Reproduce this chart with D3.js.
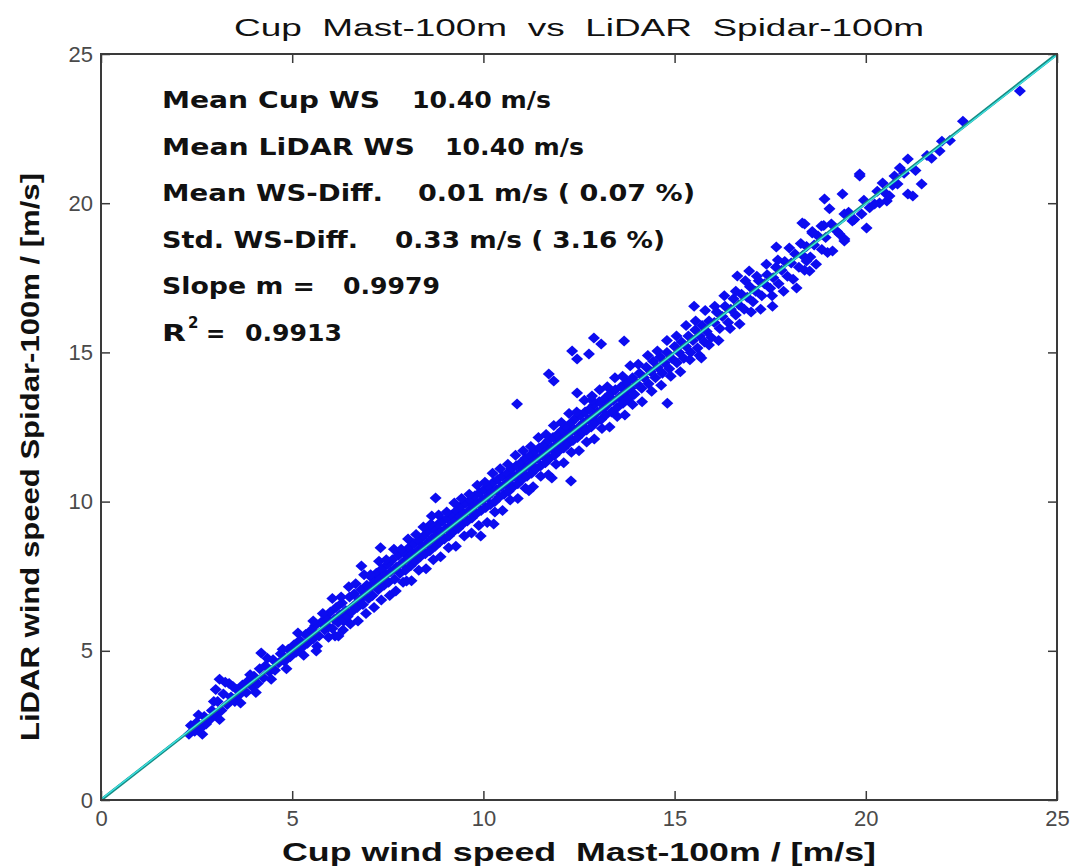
<!DOCTYPE html>
<html>
<head>
<meta charset="utf-8">
<script src="https://cdn.jsdelivr.net/npm/d3@7"></script>
<style>
  body { margin: 0; background: #fff; }
  text { white-space: pre; }
</style>
</head>
<body>
<script>
const chartTitle = 'Cup  Mast-100m  vs  LiDAR  Spidar-100m'
const xLabel = 'Cup wind speed  Mast-100m / [m/s]'
const yLabel = 'LiDAR wind speed Spidar-100m / [m/s]'
const tickValues = [0, 5, 10, 15, 20, 25]

const statLabels = ['Mean Cup WS', 'Mean LiDAR WS', 'Mean WS-Diff.', 'Std. WS-Diff.', 'Slope m =', 'R']
const statValues = ['10.40 m/s', '10.40 m/s', '0.01 m/s ( 0.07 %)', '0.33 m/s ( 3.16 %)', '0.9979', '0.9913']
const fitSlope = 0.9979
const fitOffset = 0.022

// [cup, lidar] pairs of the main cloud, read along the diagonal
const bandPoints = [
  [2.3,2.2],[2.35,2.5],[2.45,2.3],[2.5,2.6],[2.6,2.4],[2.7,2.8],[2.75,2.55],[2.85,2.7],[2.9,3.0],[3.0,2.85],
  [3.05,3.3],[3.15,3.0],[3.2,3.55],[3.3,3.2],[3.35,3.9],[3.4,3.45],[3.5,3.3],[3.55,3.7],[3.6,3.5],[3.7,3.85],
  [3.8,3.6],[3.85,4.0],[3.95,3.8],[4.0,4.15],[4.1,3.9],[4.15,4.4],[4.25,4.1],[4.3,4.5],[4.4,4.3],[4.5,4.7],
  [4.55,4.35],[4.65,4.6],[4.7,4.9],[4.8,4.65],[4.9,5.05],[4.95,4.8],[5.05,5.2],[5.1,4.95],[5.2,5.35],[5.25,5.1],
  [5.35,5.55],[5.4,5.25],[5.5,5.7],[5.55,5.4],[5.6,5.85],[5.7,5.5],[5.75,5.95],[5.85,5.7],[5.9,6.1],[5.95,5.8],
  [6.0,6.3],[6.05,5.75],[6.1,6.05],[6.15,6.45],[6.2,5.95],[6.25,6.2],[6.3,6.6],[6.35,6.0],[6.4,6.35],[6.45,6.15],
  [6.5,6.8],[6.55,6.3],[6.6,6.5],[6.62,6.9],[6.7,6.45],[6.75,6.7],[6.8,7.05],[6.85,6.55],[6.9,6.85],[6.95,7.2],
  [7.0,6.75],[7.02,7.1],[7.08,7.45],[7.1,6.85],[7.15,7.3],[7.2,7.6],[7.25,7.05],[7.3,7.4],[7.35,7.75],[7.4,7.2],
  [7.45,7.55],[7.5,7.9],[7.52,7.3],[7.58,7.65],[7.62,8.05],[7.68,7.4],[7.72,7.8],[7.78,8.2],[7.82,7.6],[7.88,7.95],
  [7.92,8.3],[7.96,7.7],[8.02,8.1],[8.05,8.45],[8.1,7.85],[8.14,8.25],[8.18,8.6],[8.22,8.0],[8.27,8.35],[8.3,8.7],
  [8.35,8.15],[8.4,8.5],[8.44,8.85],[8.48,8.25],[8.52,8.6],[8.56,9.0],[8.6,8.35],[8.65,8.75],[8.7,9.1],[8.74,8.5],
  [8.78,8.9],[8.82,9.25],[8.86,8.65],[8.9,9.0],[8.94,9.35],[8.98,8.75],[9.02,9.1],[9.06,9.45],[9.1,8.85],[9.14,9.2],
  [9.18,9.55],[9.22,9.0],[9.26,9.35],[9.3,9.7],[9.34,9.1],[9.38,9.5],[9.42,9.85],[9.46,9.25],[9.5,9.6],[9.54,9.95],
  [9.58,9.35],[9.62,9.7],[9.66,10.05],[9.7,9.45],[9.74,9.85],[9.78,10.2],[9.82,9.6],[9.86,9.95],[9.9,10.3],[9.94,9.7],
  [9.98,10.05],[10.02,10.4],[10.06,9.8],[10.1,10.15],[10.14,10.5],[10.18,9.9],[10.22,10.3],[10.26,10.65],[10.3,10.0],[10.34,10.4],
  [10.38,10.75],[10.42,10.15],[10.46,10.5],[10.5,10.85],[10.54,10.25],[10.58,10.6],[10.62,10.95],[10.66,10.35],[10.7,10.75],[10.74,11.1],
  [10.78,10.5],[10.82,10.85],[10.86,11.2],[10.9,10.6],[10.94,10.95],[10.98,11.3],[11.02,10.75],[11.06,11.1],[11.1,11.45],[11.14,10.85],
  [11.18,11.2],[11.22,11.55],[11.26,10.95],[11.3,11.35],[11.34,11.7],[11.38,11.1],[11.42,11.45],[11.46,11.8],[11.5,11.2],[11.54,11.55],
  [11.58,11.9],[11.62,11.3],[11.66,11.7],[11.7,12.05],[11.74,11.45],[11.78,11.8],[11.82,12.15],[11.86,11.55],[11.9,11.9],[11.94,12.25],
  [11.98,11.7],[12.02,12.05],[12.06,12.4],[12.1,11.8],[12.14,12.15],[12.18,12.5],[12.22,11.95],[12.26,12.3],[12.3,12.65],[12.34,12.05],
  [12.38,12.4],[12.42,12.8],[12.46,12.15],[12.5,12.5],[12.54,12.9],[12.58,12.3],[12.62,12.65],[12.66,13.0],[12.7,12.4],[12.74,12.75],
  [12.78,13.1],[12.82,12.5],[12.86,12.85],[12.9,13.25],[12.94,12.65],[12.98,13.0],[13.03,13.35],[13.08,12.75],[13.12,13.1],[13.17,13.45],
  [13.2,12.9],[13.25,13.25],[13.3,13.6],[13.35,13.0],[13.4,13.4],[13.45,13.75],[13.5,13.15],[13.55,13.5],[13.6,13.85],[13.65,13.3],
  [13.7,13.65],[13.75,14.0],[13.8,13.45],[13.85,13.8],[13.9,14.15],[13.95,13.6],[14.02,13.95],[14.08,14.3],[14.14,13.8],[14.2,14.15],
  [14.26,14.5],[14.32,13.95],[14.38,14.35],[14.44,14.7],[14.5,14.15],[14.56,14.5],[14.62,14.85],[14.68,14.3],[14.74,14.65],[14.8,15.0],
  [14.86,14.45],[14.92,14.8],[15.0,15.2],[15.06,14.65],[15.12,15.0],[15.18,15.35],[15.24,14.8],[15.3,15.2],[15.36,15.55],[15.42,15.0],
  [15.48,15.4],[15.54,15.75],[15.6,15.15],[15.66,15.55],[15.72,15.9],[15.78,15.35],[15.84,15.7],[15.9,16.05],[15.96,15.5],[16.04,16.0],
  [16.1,16.35],[16.18,15.8],[16.25,16.2],[16.32,16.55],[16.4,16.0],[16.47,16.45],[16.54,16.8],[16.6,16.25],[16.68,16.6],[16.75,16.95],
  [16.82,16.45],[16.9,16.85],[16.97,17.2],[17.05,16.7],[17.12,17.05],[17.2,17.4],[17.28,16.9],[17.35,17.3],[17.42,17.6],[17.5,17.15],
  [17.58,17.5],[17.65,17.85],[17.72,17.3],[17.8,17.75],[17.88,18.05],[17.95,17.55],[18.05,18.0],[18.15,18.3],[18.25,17.85],[18.35,18.25],
  [18.45,18.55],[18.55,18.2],[18.65,18.6],[18.75,18.9],[18.85,18.45],[18.95,18.85],[19.1,19.3],[19.25,19.05],[19.55,19.7],[19.7,19.45],
  [19.95,20.1],[20.1,19.85],[20.3,20.4],[20.5,20.35],[20.7,20.6],[21.0,21.0],[21.3,21.1],[21.6,21.6],[22.2,22.1]
]

// rough upper and lower edges of the cloud
const bandEdgePoints = [
  [2.55,2.85],[2.65,2.2],[2.95,3.3],[3.1,2.7],[3.45,3.8],[3.65,3.25],[3.9,4.2],[4.05,3.6],[4.35,4.75],[4.45,4.05],
  [4.75,5.05],[4.85,4.4],[5.15,5.6],[5.3,4.85],[5.55,6.0],[5.65,5.15],[5.8,6.25],[5.95,5.45],
  [6.05,6.75],[6.12,5.5],[6.28,6.8],[6.33,5.7],[6.48,7.15],[6.52,5.9],[6.66,7.25],[6.72,6.0],[6.88,7.55],[6.93,6.25],
  [7.05,7.55],[7.14,6.45],[7.27,8.0],[7.33,6.7],[7.46,8.05],[7.55,6.85],[7.66,8.4],[7.71,7.0],[7.85,8.4],[7.9,7.3],
  [8.03,8.75],[8.12,7.35],[8.24,8.9],[8.31,7.7],[8.43,9.15],[8.5,7.75],[8.63,9.25],[8.69,8.05],[8.83,9.55],[8.88,8.15],
  [9.04,9.65],[9.09,8.45],[9.24,9.95],[9.28,8.5],[9.43,10.1],[9.5,8.85],[9.63,10.25],[9.69,8.95],[9.84,10.55],[9.88,9.2],
  [10.04,10.65],[10.1,9.3],[10.24,10.95],[10.3,9.65],[10.44,11.1],[10.5,9.7],[10.64,11.25],[10.7,10.05],[10.84,11.55],[10.9,10.1],
  [11.04,11.7],[11.1,10.45],[11.24,11.85],[11.3,10.5],[11.44,12.15],[11.5,10.85],[11.64,12.25],[11.7,10.9],[11.84,12.55],[11.9,11.25],
  [12.04,12.65],[12.1,11.3],[12.24,12.95],[12.3,11.65],[12.44,13.0],[12.5,11.7],[12.64,13.4],[12.7,12.0],[12.84,13.4],[12.9,12.1],
  [13.04,13.75],[13.1,12.45],[13.24,13.85],[13.3,12.5],[13.44,14.15],[13.5,12.85],[13.64,14.2],[13.7,12.9],[13.84,14.55],[13.9,13.25],
  [14.05,14.6],[14.15,13.35],[14.3,14.9],[14.4,13.7],[14.55,15.05],[14.65,13.9],[14.8,15.4],[14.9,14.2],[15.05,15.55],[15.15,14.35],
  [15.3,15.9],[15.4,14.75],[15.55,16.05],[15.65,14.9],[15.8,16.4],[15.9,15.25],[16.05,16.55],[16.15,15.4],[16.3,16.9],[16.45,15.8],
  [16.6,17.05],[16.7,15.95],[16.85,17.4],[17.0,16.35],[17.15,17.55],[17.25,16.45],[17.4,17.95],[17.55,16.9],[17.7,18.1],[17.85,17.05],
  [18.0,18.5],[18.1,17.45],[18.3,18.65],[18.4,17.75],[18.6,19.05],[18.7,17.95],[18.9,19.25],[19.0,18.35]
]

// scattered points away from the diagonal
const outlierPoints = [
  [3.1,4.05],[3.25,3.95],[3.0,3.7],[4.19,4.93],[5.63,4.99],[6.21,5.5],[6.81,7.84],[7.99,7.34],[7.31,8.45],[8.65,9.52],
  [8.75,10.12],[9.93,8.85],[10.27,9.25],[10.88,13.27],[11.19,10.36],[11.79,10.79],[12.29,10.69],[11.71,14.28],[11.84,14.04],[12.32,15.05],
  [12.45,14.78],[12.76,14.95],[12.89,15.48],[13.08,15.28],[13.68,15.38],[12.45,13.64],[12.84,13.54],[14.81,13.3],[15.51,16.55],[15.7,14.81],
  [16.64,17.56],[16.95,17.73],[17.66,18.53],[17.56,16.55],[18.19,17.16],[18.34,19.34],[18.92,20.14],[19.39,20.31],[19.05,19.81],[19.84,20.98],
  [19.44,18.73],[19.13,18.4],[20.02,19.17],[20.55,20.07],[24.03,23.76],[22.54,22.75],[21.99,22.08],[21.93,21.75],[21.72,21.51],[21.1,21.48],
  [20.89,21.18],[20.75,20.91],[20.44,20.68],[20.83,20.64],[21.46,20.64],[21.1,20.31],[21.23,20.24],[20.62,20.24],[20.36,20.01],[20.23,19.97],
  [19.44,19.64],[19.89,19.64],[19.65,19.4],[19.44,18.8],[18.4,19.3],[18.84,19.24],[18.6,19.0],[19.31,18.97],[18.45,18.06],[18.53,17.73],
  [19.84,20.91]
]

const width = 1074
const height = 867
const margin = { top: 54, right: 17, bottom: 67, left: 101 }

const svg = d3.select('body').append('svg')
  .attr('width', width)
  .attr('height', height)
  .attr('viewBox', [0, 0, width, height])
  .style('font-family', 'Liberation Sans, Arial, sans-serif')

const x = d3.scaleLinear().domain([0, 25]).range([margin.left, width - margin.right])
const y = d3.scaleLinear().domain([0, 25]).range([height - margin.bottom, margin.top])

const axisColor = '#3a3a3a'

// markers
const diamond = 'M0,-5.5L6,0L0,5.5L-6,0Z'
svg.append('g')
  .attr('fill', '#0c0cf0')
  .selectAll('path')
  .data(bandPoints.concat(bandEdgePoints, outlierPoints))
  .join('path')
    .attr('d', diamond)
    .attr('transform', d => `translate(${x(d[0])},${y(d[1])})`)

// reference and fit lines
const line = d3.line().x(d => x(d[0])).y(d => y(d[1]))
svg.append('path')
  .attr('d', line([[0, 0], [25, 25]]))
  .attr('stroke', '#168c84')
  .attr('stroke-width', 3)
  .attr('fill', 'none')
svg.append('path')
  .attr('d', line([[0, fitOffset], [25, 25 * fitSlope + fitOffset]]))
  .attr('stroke', '#3fe6e6')
  .attr('stroke-width', 1.3)
  .attr('fill', 'none')

// axes with inward ticks on all sides
const styleAxis = (g) => {
  g.select('.domain').remove()
  g.selectAll('.tick line').attr('stroke', axisColor).attr('stroke-width', 1.5)
  g.selectAll('.tick text').attr('fill', '#4a4a4a').attr('font-size', 22)
}

svg.append('g')
  .attr('transform', `translate(0,${y(0)})`)
  .call(d3.axisBottom(x).tickValues(tickValues).tickSizeInner(-9).tickSizeOuter(0).tickPadding(10))
  .call(styleAxis)

svg.append('g')
  .attr('transform', `translate(${x(0)},0)`)
  .call(d3.axisLeft(y).tickValues(tickValues).tickSizeInner(-9).tickSizeOuter(0).tickPadding(8))
  .call(styleAxis)

svg.append('g')
  .attr('transform', `translate(0,${y(25)})`)
  .call(d3.axisTop(x).tickValues(tickValues).tickSizeInner(-9).tickSizeOuter(0).tickFormat(''))
  .call(styleAxis)

svg.append('g')
  .attr('transform', `translate(${x(25)},0)`)
  .call(d3.axisRight(y).tickValues(tickValues).tickSizeInner(-9).tickSizeOuter(0).tickFormat(''))
  .call(styleAxis)

svg.append('rect')
  .attr('x', x(0))
  .attr('y', y(25))
  .attr('width', x(25) - x(0))
  .attr('height', y(0) - y(25))
  .attr('fill', 'none')
  .attr('stroke', axisColor)
  .attr('stroke-width', 2)

// title and axis labels
svg.append('text')
  .attr('x', (x(0) + x(25)) / 2)
  .attr('y', 36)
  .attr('text-anchor', 'middle')
  .attr('font-size', 23)
  .attr('fill', '#111')
  .attr('textLength', 690)
  .attr('lengthAdjust', 'spacingAndGlyphs')
  .text(chartTitle)

svg.append('text')
  .attr('x', (x(0) + x(25)) / 2)
  .attr('y', 861)
  .attr('text-anchor', 'middle')
  .attr('font-size', 25)
  .attr('font-weight', 'bold')
  .attr('fill', '#111')
  .attr('textLength', 594)
  .attr('lengthAdjust', 'spacingAndGlyphs')
  .text(xLabel)

svg.append('text')
  .attr('transform', `translate(39,457) rotate(-90)`)
  .attr('text-anchor', 'middle')
  .attr('font-size', 25)
  .attr('font-weight', 'bold')
  .attr('fill', '#111')
  .attr('textLength', 568)
  .attr('lengthAdjust', 'spacingAndGlyphs')
  .text(yLabel)

// statistics box
const statX = 162
const statTop = 108
const statStep = 46.6
const labelWidths = [218, 253, 221, 196, 153, 24]
const valueX = [412, 445, 418, 395, 343, 245]
const valueWidths = [139, 139, 277, 270, 97, 97]

const stats = svg.append('g')
  .attr('font-family', 'DejaVu Sans, Verdana, sans-serif')
  .attr('font-weight', 'bold')
  .attr('font-size', 23)
  .attr('fill', '#111')

statLabels.forEach((label, i) => {
  const yPos = statTop + i * statStep
  stats.append('text')
    .attr('x', statX)
    .attr('y', yPos)
    .attr('textLength', labelWidths[i])
    .attr('lengthAdjust', 'spacingAndGlyphs')
    .text(label)
  stats.append('text')
    .attr('x', valueX[i])
    .attr('y', yPos)
    .attr('textLength', valueWidths[i])
    .attr('lengthAdjust', 'spacingAndGlyphs')
    .text(statValues[i])
})

// superscript and equals sign for R^2
const r2y = statTop + 5 * statStep
stats.append('text')
  .attr('x', 188)
  .attr('y', r2y - 13)
  .attr('font-size', 15)
  .text('2')
stats.append('text')
  .attr('x', 206)
  .attr('y', r2y)
  .text('=')
</script>
</body>
</html>
